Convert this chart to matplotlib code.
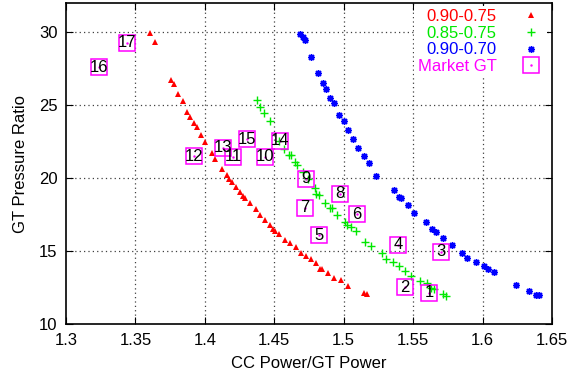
import matplotlib
matplotlib.use('Agg')
import matplotlib.pyplot as plt
from matplotlib.lines import Line2D
from matplotlib.legend_handler import HandlerTuple

plt.rcParams['font.family'] = ['Liberation Sans', 'DejaVu Sans']

# efficiency range 0.90-0.75 (red triangles)
red_x = [1.3603, 1.3640, 1.3754, 1.3780, 1.3810, 1.3843, 1.3875, 1.3894, 1.3923, 1.3942,
         1.3973, 1.3998, 1.4050, 1.4075, 1.4125, 1.4157, 1.4172, 1.4198, 1.4222, 1.4251,
         1.4275, 1.4290, 1.4326, 1.4365, 1.4394, 1.4430, 1.4466, 1.4490, 1.4507, 1.4536,
         1.4575, 1.4610, 1.4659, 1.4696, 1.4732, 1.4768, 1.4804, 1.4828, 1.4845, 1.4889,
         1.4930, 1.4980, 1.5034, 1.5143, 1.5167]
red_y = [29.98, 29.36, 26.76, 26.44, 25.75, 25.27, 24.57, 24.20, 23.77, 23.50,
         22.95, 22.51, 21.70, 21.32, 20.64, 20.20, 19.95, 19.73, 19.43, 19.06,
         18.77, 18.68, 18.31, 17.88, 17.51, 17.17, 16.80, 16.49, 16.39, 16.16,
         15.80, 15.53, 15.30, 14.91, 14.68, 14.45, 14.16, 13.75, 13.75, 13.54,
         13.20, 13.01, 12.62, 12.14, 12.05]

# 0.85-0.75 (green plus)
green_x = [1.4374, 1.4399, 1.4423, 1.4471, 1.4534, 1.4568, 1.4607, 1.4623, 1.4647, 1.4667,
           1.4708, 1.4740, 1.4792, 1.4804, 1.4821, 1.4865, 1.4901, 1.4918, 1.4954, 1.5010,
           1.5022, 1.5051, 1.5087, 1.5155, 1.5196, 1.5275, 1.5307, 1.5355, 1.5398, 1.5445,
           1.5488, 1.5553, 1.5601, 1.5626, 1.5650, 1.5717, 1.5734]
green_y = [25.39, 24.88, 24.47, 23.90, 22.55, 21.97, 21.60, 21.58, 21.10, 20.90,
           20.43, 19.95, 19.36, 18.95, 18.88, 18.27, 17.99, 17.97, 17.47, 17.01,
           16.78, 16.66, 16.37, 15.64, 15.36, 14.86, 14.45, 14.25, 13.98, 13.65,
           13.31, 12.97, 12.83, 12.51, 12.38, 12.10, 11.92]

# 0.90-0.70 (blue stars)
blue_x = [1.4683, 1.4708, 1.4725, 1.4768, 1.4812, 1.4848, 1.4870, 1.4901, 1.4930, 1.4964,
          1.5002, 1.5029, 1.5070, 1.5100, 1.5143, 1.5179, 1.5234, 1.5360, 1.5396, 1.5413,
          1.5464, 1.5510, 1.5590, 1.5638, 1.5662, 1.5715, 1.5783, 1.5850, 1.5891, 1.5951,
          1.6012, 1.6043, 1.6085, 1.6241, 1.6338, 1.6382, 1.6406]
blue_y = [29.90, 29.68, 29.50, 28.31, 27.24, 26.53, 26.10, 25.53, 25.12, 24.30,
          23.90, 23.29, 22.72, 22.10, 21.50, 21.07, 20.16, 19.18, 18.72, 18.65,
          18.15, 17.65, 16.97, 16.51, 16.32, 15.94, 15.46, 14.88, 14.54, 14.27,
          13.97, 13.75, 13.58, 12.72, 12.26, 12.03, 12.03]

# market gas turbines
gt_labels = ['1', '2', '3', '4', '5', '6', '7', '8', '9', '10', '11', '12', '13', '14', '15', '16', '17']
gt_x = [1.5617, 1.5439, 1.5701, 1.5390, 1.4820, 1.5096, 1.4723, 1.4975, 1.4730, 1.4435,
        1.4202, 1.3923, 1.4130, 1.4543, 1.4307, 1.3238, 1.3437]
gt_y = [12.14, 12.55, 14.95, 15.46, 16.10, 17.53, 17.97, 18.95, 19.98, 21.46,
        21.46, 21.50, 22.10, 22.56, 22.67, 27.60, 29.27]

x_ticks = [1.3, 1.35, 1.4, 1.45, 1.5, 1.55, 1.6, 1.65]
x_ticklabels = ['1.3', '1.35', '1.4', '1.45', '1.5', '1.55', '1.6', '1.65']
y_ticks = [10, 15, 20, 25, 30]

RED, GREEN, BLUE, MAG = '#ff0000', '#00e800', '#0000ff', '#ff00ff'

fig = plt.figure(figsize=(5.69, 3.81), dpi=100)
ax = fig.add_axes([0.116, 0.149, 0.854, 0.843])

# dotted grid drawn by hand so the opaque key can sit over it but under the ticks
grid_kw = dict(color='0.25', linestyle=(0, (1, 2.5)), linewidth=0.9, zorder=1)
for xt in x_ticks[1:-1]:
    ax.axvline(xt, **grid_kw)
for yt in y_ticks[1:]:
    ax.axhline(yt, **grid_kw)

ax.plot(red_x, red_y, linestyle='none', marker='^', color=RED, markersize=4.5,
        markeredgewidth=0)
ax.plot(green_x, green_y, linestyle='none', marker='+', color=GREEN, markersize=5.5,
        markeredgewidth=1.0)
ax.plot(blue_x, blue_y, linestyle='none', marker=(8, 2, 0), color=BLUE, markersize=5,
        markeredgewidth=1.0)

ax.plot(gt_x, gt_y, linestyle='none', marker='s', markersize=11, markerfacecolor='none',
        markeredgecolor=MAG, markeredgewidth=1.1, zorder=4)
ax.plot(gt_x, gt_y, linestyle='none', marker='.', markersize=1.5, color=MAG, zorder=4)
for lab, x, y in zip(gt_labels, gt_x, gt_y):
    ax.text(x, y, lab, ha='center', va='center', fontsize=12, color='black', zorder=5)

ax.set_xlim(1.3, 1.65)
ax.set_ylim(10, 32)
ax.set_xticks(x_ticks)
ax.set_xticklabels(x_ticklabels)
ax.set_yticks(y_ticks)
ax.tick_params(direction='in', top=True, right=True, length=5, labelsize=12, pad=6)
for s in ax.spines.values():
    s.set_linewidth(1.2)
    s.set_zorder(6)

ax.set_xlabel('CC Power/GT Power', fontsize=12, labelpad=6)
ax.set_ylabel('GT Pressure Ratio', fontsize=12, labelpad=8)

# legend: text first, key to its right
h_red = Line2D([], [], linestyle='none', marker='^', color=RED, markersize=4.5, markeredgewidth=0)
h_green = Line2D([], [], linestyle='none', marker='+', color=GREEN, markersize=5.5)
h_blue = Line2D([], [], linestyle='none', marker=(8, 2, 0), color=BLUE, markersize=5)
h_box = Line2D([], [], linestyle='none', marker='s', markersize=11, markerfacecolor='none',
               markeredgecolor=MAG, markeredgewidth=1.1)
h_dot = Line2D([], [], linestyle='none', marker='.', markersize=1.5, color=MAG)
leg = ax.legend([h_red, h_green, h_blue, (h_box, h_dot)],
                ['0.90-0.75', '0.85-0.75', '0.90-0.70', 'Market GT'],
                handler_map={tuple: HandlerTuple(ndivide=1)},
                loc='upper right', bbox_to_anchor=(0.989, 0.9916), frameon=True, fancybox=False,
                facecolor='white', edgecolor='none', framealpha=1.0, markerfirst=False,
                fontsize=12, handlelength=1.5, handletextpad=1.3, labelspacing=0.1,
                borderaxespad=0, borderpad=0.2)
leg.set_zorder(2)
for txt, c in zip(leg.get_texts(), [RED, GREEN, BLUE, MAG]):
    txt.set_color(c)

fig.savefig('out.png', dpi=100)
